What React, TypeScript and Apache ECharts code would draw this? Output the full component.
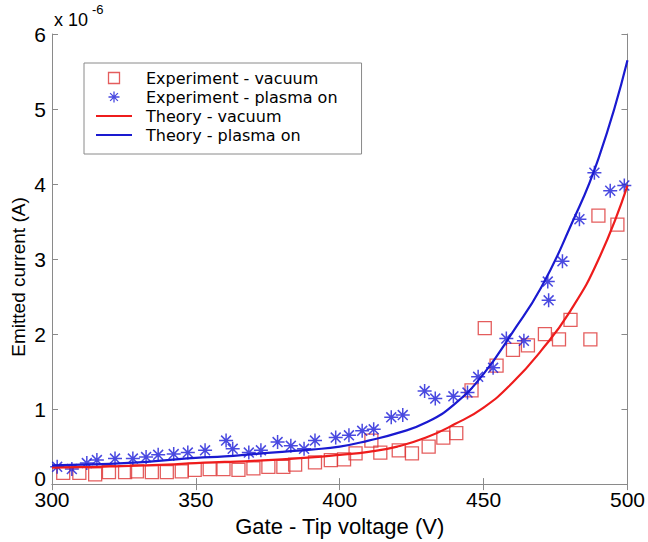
import React, { useEffect, useRef } from "react";
import * as echarts from "echarts";

// Experiment - vacuum (gate-tip voltage V, emitted current x1e-6 A)
const vacuumV = [303.9, 309.5, 315.0, 319.8, 325.4, 329.5, 334.7, 339.9, 345.1, 349.6, 354.8, 359.6, 364.8, 370.0, 375.2, 380.4, 384.5, 391.4, 396.9, 401.5, 405.5, 411.0, 414.1, 420.5, 425.1, 430.9, 436.0, 440.5, 445.8, 450.4, 454.5, 460.2, 465.4, 471.3, 476.2, 480.2, 487.1, 489.9, 496.5];
const vacuumI = [0.15, 0.15, 0.13, 0.16, 0.16, 0.17, 0.16, 0.16, 0.17, 0.19, 0.2, 0.2, 0.19, 0.21, 0.23, 0.23, 0.26, 0.29, 0.32, 0.33, 0.41, 0.58, 0.42, 0.45, 0.41, 0.5, 0.62, 0.68, 1.25, 2.08, 1.58, 1.79, 1.85, 2.0, 1.93, 2.19, 1.93, 3.58, 3.46];

// Experiment - plasma on
const plasmaV = [301.8, 306.9, 312.1, 315.6, 321.9, 328.1, 332.7, 336.9, 342.3, 347.2, 353.2, 360.5, 362.8, 368.4, 372.6, 378.4, 383.0, 387.6, 391.4, 398.6, 403.2, 407.8, 411.8, 417.9, 421.9, 429.5, 433.2, 439.5, 444.4, 448.1, 453.3, 457.9, 464.0, 472.6, 472.3, 477.4, 483.3, 488.5, 494.0, 498.9];
const plasmaI = [0.23, 0.2, 0.28, 0.32, 0.34, 0.34, 0.36, 0.39, 0.4, 0.42, 0.45, 0.58, 0.47, 0.42, 0.45, 0.56, 0.51, 0.47, 0.58, 0.62, 0.65, 0.71, 0.73, 0.89, 0.92, 1.24, 1.14, 1.17, 1.22, 1.43, 1.55, 1.94, 1.91, 2.45, 2.7, 2.97, 3.53, 4.15, 3.91, 3.98];

// Theory curves (every 10 V)
const theoryV = [300, 310, 320, 330, 340, 350, 360, 370, 380, 390, 400, 410, 420, 430, 440, 450, 460, 470, 480, 490, 500];
const theoryVacuumI = [0.22, 0.225, 0.235, 0.245, 0.26, 0.28, 0.295, 0.31, 0.33, 0.355, 0.39, 0.43, 0.5, 0.62, 0.8, 1.02, 1.35, 1.78, 2.3, 3.0, 3.98];
const theoryPlasmaI = [0.25, 0.26, 0.27, 0.29, 0.32, 0.35, 0.37, 0.4, 0.43, 0.46, 0.5, 0.58, 0.68, 0.82, 1.07, 1.47, 2.02, 2.62, 3.42, 4.35, 5.65];

const seriesNames = [
  "Experiment - vacuum",
  "Experiment - plasma on",
  "Theory - vacuum",
  "Theory - plasma on",
];
const xTickValues = [300, 350, 400, 450, 500];
const yTickValues = [0, 1, 2, 3, 4, 5, 6];

const FONT = "'Liberation Sans', Arial, Helvetica, sans-serif";
const LEGEND_FONT = "'DejaVu Sans', 'Liberation Sans', sans-serif";
const AXIS_GRAY = "#8a8a8a";
const RED_MARK = "#dd3434";
const BLUE_MARK = "#1c1cd8";
const RED_LINE = "#ee1c1c";
const BLUE_LINE = "#1a1ad0";
const STAR =
  "path://M0,-10L0,10M-10,0L10,0M-7.07,-7.07L7.07,7.07M-7.07,7.07L7.07,-7.07";
const SQUARE = "path://M0,0L10,0L10,10L0,10Z";
const LINE_ICON = "path://M0,0L18,0L18,1L0,1Z";

const zip = (xs: number[], ys: number[]) => xs.map((x, i) => [x, ys[i]]);

export default function App() {
  const ref = useRef<HTMLDivElement>(null);

  useEffect(() => {
    if (!ref.current) return;
    const chart = echarts.init(ref.current, undefined, { renderer: "svg" });

    const xMin = xTickValues[0];
    const xMax = xTickValues[xTickValues.length - 1];
    const xInt = xTickValues[1] - xTickValues[0];
    const yMin = yTickValues[0];
    const yMax = yTickValues[yTickValues.length - 1];
    const yInt = yTickValues[1] - yTickValues[0];

    const baseX = {
      type: "value" as const,
      min: xMin,
      max: xMax,
      interval: xInt,
      splitLine: { show: false },
      axisLine: { show: true, lineStyle: { color: AXIS_GRAY, width: 1 } },
      axisTick: { show: true, inside: true, length: 6, lineStyle: { color: AXIS_GRAY } },
    };
    const baseY = {
      type: "value" as const,
      min: yMin,
      max: yMax,
      interval: yInt,
      splitLine: { show: false },
      axisLine: { show: true, lineStyle: { color: AXIS_GRAY, width: 1 } },
      axisTick: { show: true, inside: true, length: 6, lineStyle: { color: AXIS_GRAY } },
    };

    chart.setOption({
      animation: false,
      backgroundColor: "#ffffff",
      grid: { left: 52, right: 18, top: 34, bottom: 55, containLabel: false },
      xAxis: [
        {
          ...baseX,
          position: "bottom",
          axisLabel: { fontSize: 21, color: "#000", fontFamily: FONT, margin: 5 },
          name: "Gate - Tip voltage (V)",
          nameLocation: "middle",
          nameGap: 20,
          nameTextStyle: { fontSize: 22, color: "#000", fontFamily: FONT },
        },
        { ...baseX, position: "top", axisLabel: { show: false } },
      ],
      yAxis: [
        {
          ...baseY,
          position: "left",
          axisLabel: {
            fontSize: 21,
            color: "#000",
            fontFamily: FONT,
            margin: 6,
            formatter: (v: number) => (v === 0 ? "{z|0}" : String(v)),
            rich: { z: { fontSize: 21, color: "#000", fontFamily: FONT, padding: [0, 0, 12, 0] } },
          },
        },
        { ...baseY, position: "right", axisLabel: { show: false } },
      ],
      legend: {
        orient: "vertical",
        left: 84,
        top: 63,
        padding: [7, 24, 11, 12],
        itemWidth: 36,
        itemHeight: 11,
        itemGap: 3,
        borderColor: "#8a8a8a",
        borderWidth: 1,
        backgroundColor: "#ffffff",
        textStyle: {
          fontSize: 16,
          color: "#000",
          fontFamily: LEGEND_FONT,
          padding: [0, 0, 0, 9],
        },
        data: [
          {
            name: seriesNames[0],
            icon: SQUARE,
            itemStyle: { color: "rgba(255,255,255,0)", borderColor: RED_MARK, borderWidth: 1.3 },
          },
          {
            name: seriesNames[1],
            icon: STAR,
            itemStyle: { color: BLUE_MARK, borderColor: BLUE_MARK, borderWidth: 1.3 },
          },
          {
            name: seriesNames[2],
            icon: LINE_ICON,
            itemStyle: { color: RED_LINE, borderWidth: 0 },
          },
          {
            name: seriesNames[3],
            icon: LINE_ICON,
            itemStyle: { color: BLUE_LINE, borderWidth: 0 },
          },
        ],
      },
      graphic: [
        {
          type: "text",
          left: 54,
          top: 11,
          style: { text: "x 10", fontSize: 18, fill: "#000", fontFamily: FONT },
        },
        {
          type: "text",
          left: 92,
          top: 3,
          style: { text: "-6", fontSize: 13, fill: "#000", fontFamily: FONT },
        },
        {
          type: "text",
          x: 18,
          y: 277,
          rotation: Math.PI / 2,
          style: {
            text: "Emitted current (A)",
            fontSize: 19,
            fill: "#000",
            fontFamily: FONT,
            align: "center",
            verticalAlign: "middle",
          },
        },
      ],
      series: [
        {
          name: seriesNames[0],
          type: "scatter",
          data: zip(vacuumV, vacuumI),
          symbol: "rect",
          symbolSize: 13,
          itemStyle: { color: "rgba(255,255,255,0)", borderColor: RED_MARK, borderWidth: 1.3 },
          z: 2,
        },
        {
          name: seriesNames[1],
          type: "scatter",
          data: zip(plasmaV, plasmaI),
          symbol: STAR,
          symbolSize: 14,
          itemStyle: { color: BLUE_MARK, borderColor: BLUE_MARK, borderWidth: 1.5 },
          z: 2,
        },
        {
          name: seriesNames[2],
          type: "line",
          data: zip(theoryV, theoryVacuumI),
          smooth: true,
          symbol: "none",
          showSymbol: false,
          lineStyle: { color: RED_LINE, width: 2.2 },
          itemStyle: { color: RED_LINE },
          z: 3,
        },
        {
          name: seriesNames[3],
          type: "line",
          data: zip(theoryV, theoryPlasmaI),
          smooth: true,
          symbol: "none",
          showSymbol: false,
          lineStyle: { color: BLUE_LINE, width: 2.2 },
          itemStyle: { color: BLUE_LINE },
          z: 3,
        },
      ],
    });

    return () => chart.dispose();
  }, []);

  return (
    <div
      ref={ref}
      style={{ position: "fixed", left: 0, top: 0, width: 648, height: 542, background: "#fff" }}
    />
  );
}
